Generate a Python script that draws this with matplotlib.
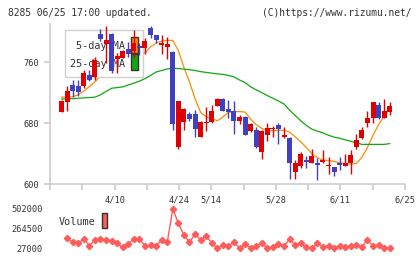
import numpy as np
import matplotlib.pyplot as plt
from matplotlib.patches import Rectangle

# ============================ DATA ========================================= #

opens = [719, 695, 708, 730, 728, 729, 743, 741, 797, 784,
         797, 764, 766, 777, 775, 781, 778, 805, 795, 783,
         780, 773, 649, 682, 692, 692, 662, 680, 682, 703,
         712, 698, 696, 683, 688, 670, 671, 642, 664, 672,
         677, 662, 661, 616, 623, 631, 628, 627, 629, 623,
         622, 627, 624, 627, 648, 661, 680, 686, 704, 687, 695]
highs = [719, 710, 729, 736, 736, 749, 749, 767, 803, 808,
         798, 772, 776, 786, 802, 785, 792, 808, 796, 795,
         793, 774, 709, 700, 695, 697, 683, 701, 704, 713,
         713, 710, 709, 690, 689, 680, 675, 671, 680, 676,
         680, 675, 662, 632, 642, 637, 646, 634, 645, 636,
         622, 635, 640, 645, 666, 675, 696, 707, 708, 712, 707]
lows = [719, 694, 696, 714, 716, 726, 735, 737, 788, 759,
        746, 746, 765, 767, 766, 769, 770, 792, 785, 771,
        764, 671, 646, 671, 683, 662, 662, 669, 680, 702,
        696, 687, 666, 679, 664, 668, 647, 633, 656, 662,
        653, 660, 607, 607, 621, 621, 627, 605, 627, 613,
        610, 618, 623, 613, 646, 659, 675, 680, 685, 686, 690]
closes = [719, 709, 722, 722, 721, 746, 736, 763, 790, 789,
          748, 768, 775, 771, 785, 779, 788, 795, 789, 785,
          784, 679, 709, 699, 685, 672, 682, 682, 696, 712,
          696, 695, 683, 688, 664, 679, 649, 669, 673, 674,
          672, 664, 627, 627, 640, 629, 637, 625, 631, 625,
          616, 625, 628, 638, 658, 671, 686, 707, 686, 696, 703]

ma5 = [np.nan, 714, 714, 714.5, 717, 722, 728, 734, 742, 752,
       760, 765, 770, 775, 776, 778, 772, 780, 785, 787.5,
       788.5, 788.5, 775, 753, 734, 712, 694, 688, 686, 683,
       688, 694, 695, 695, 694.5, 685, 678, 673, 670.5, 670,
       670.5, 670.5, 668, 662, 655.5, 648, 640, 634.5, 631.5, 630.8,
       629.5, 628, 626.8, 626, 627, 635, 648, 664, 678, 689, 698]
ma25 = [np.nan, 711.5, 712, 712, 712.5, 713, 713.5, 714, 717, 721.5,
        725.7, 726.5, 727.5, 730, 732.3, 735, 738.3, 742.5, 747, 749,
        751, 752, 751.5, 750.8, 750, 749, 747.5, 746.5, 745.5, 744.5,
        744, 742.5, 740.5, 736.5, 733, 727.5, 723.5, 720, 716, 712.5,
        709, 705, 697, 690, 683, 677, 672, 669.5, 667, 664,
        661.5, 660, 658, 656, 654, 652, 652, 652, 652, 652, 653]

volume = [np.nan, np.nan,
          155000, 99500, 87500, 139000, 58000, 127000, 139000, 127000,
          119000, 87500, 39000, 79000, 139000, 139000, 55000, 67000, 58000, 127000,
          99500, 502000, 329000, 188000, 99500, 200000, 127000, 176000, 87500, 34000,
          67000, 58000, 99500, 30000, 75000, 34000, 55000, 87500, 30000, 46000,
          79000, 55000, 135000, 67000, 87500, 39000, 30000, 87500, 46000, 55000,
          30000, 58000, 46000, 55000, 67000, 46000, 127000, 55000, 67000, 34000, 27000]

tick_pos = [-1.08, 4.72, 10.53, 16.33, 22.13, 27.93, 33.74, 39.54, 45.34, 51.14, 56.95, 62.75]
tick_labels = ['', '', '4/10', '', '4/24', '5/14', '', '5/28', '', '6/11', '', '6/25']

# ============================ STYLE ======================================== #

RED = '#e00000'
BLUE = '#4040c0'
ORANGE = '#ff8c00'
GREEN = '#10a810'
VOLC = '#ff5c5c'
GRID = '#cccccc'
TXT = '#333333'
MONO = 'DejaVu Sans Mono'

W, H = 420, 259
def fx(px):
    return px / W
def fy(py):
    return 1 - py / H

fig = plt.figure(figsize=(4.2, 2.59), dpi=100)
ax = fig.add_axes([fx(50), fy(184), 355 / W, 160 / H])
axv = fig.add_axes([fx(50), fy(252), 355 / W, 47 / H])

# ============================ CANDLES ====================================== #

o = np.array(opens, float)
c = np.array(closes, float)
x = np.arange(len(o))
cols = np.where(c >= o, RED, BLUE)

ax.vlines(x, lows, highs, color=cols, lw=1, zorder=3)
ax.bar(x, np.maximum(np.abs(c - o), 1.0), bottom=np.minimum(o, c), width=0.9,
       color=cols, linewidth=0, zorder=4)

ax.plot(x, ma5, color=ORANGE, lw=0.9, zorder=1)
ax.plot(x, ma25, color=GREEN, lw=0.9, zorder=1)

# legend box sits under the candles
ax.add_patch(Rectangle((fx(65), fy(77)), 78 / W, 47 / H, transform=fig.transFigure,
                       fc='white', ec='#d0d0d0', lw=1, zorder=2, clip_on=False))
ax.text(fx(125), fy(46), '5-day MA', transform=fig.transFigure, ha='right', va='center',
        family=MONO, size=7.3, color=TXT, zorder=2.2)
ax.text(fx(125), fy(63.5), '25-day MA', transform=fig.transFigure, ha='right', va='center',
        family=MONO, size=7.3, color=TXT, zorder=2.2)
ax.add_patch(Rectangle((fx(131), fy(52.5)), 7 / W, 15.5 / H, transform=fig.transFigure,
                       fc=ORANGE, ec='#333333', lw=1, zorder=2.5, clip_on=False))
ax.add_patch(Rectangle((fx(131), fy(69.5)), 7 / W, 15.5 / H, transform=fig.transFigure,
                       fc=GREEN, ec='#333333', lw=1, zorder=2.5, clip_on=False))

ax.set_xlim(-1.08, 62.75)
ax.set_ylim(600, 810)
ax.set_yticks([600, 680, 760])
ax.set_xticks(tick_pos)
ax.set_xticklabels(tick_labels)
for s in ['top', 'right']:
    ax.spines[s].set_visible(False)
for s in ['left', 'bottom']:
    ax.spines[s].set_color(GRID)
    ax.spines[s].set_linewidth(1.2)
ax.tick_params(axis='both', color=GRID, width=1.2, length=4, labelcolor=TXT, labelsize=6.2)
ax.tick_params(axis='y', pad=4)
ax.tick_params(axis='x', pad=4)
for lab in ax.get_xticklabels() + ax.get_yticklabels():
    lab.set_family(MONO)

# ============================ VOLUME ======================================= #

axv.plot(x, volume, color=VOLC, lw=1, marker='D', ms=3.2, mec=VOLC, mfc=VOLC, clip_on=False)
axv.set_xlim(-1.08, 62.75)
axv.set_ylim(-17700, 550000)
axv.set_yticks([27000, 264500, 502000])
axv.set_yticklabels(['27000', '264500', '502000'])
axv.set_xticks([])
for s in axv.spines.values():
    s.set_visible(False)
axv.tick_params(axis='y', length=0, pad=5, labelcolor=TXT, labelsize=6.2)
for lab in axv.get_yticklabels():
    lab.set_family(MONO)
axv.patch.set_alpha(0)

fig.text(fx(59), fy(222.3), 'Volume', ha='left', va='center', family=MONO, size=7.3, color=TXT)
fig.patches.append(Rectangle((fx(102), fy(228.3)), 5.5 / W, 15 / H, transform=fig.transFigure,
                             fc=VOLC, ec='#333333', lw=1, figure=fig))

# ============================ HEADER ======================================= #

fig.text(fx(8), fy(12.7), '8285 06/25 17:00 updated.', ha='left', va='center',
         family=MONO, size=6.9, color=TXT)
fig.text(fx(411), fy(12.7), '(C)https://www.rizumu.net/', ha='right', va='center',
         family=MONO, size=6.9, color=TXT)

fig.savefig('out.png', dpi=100)
